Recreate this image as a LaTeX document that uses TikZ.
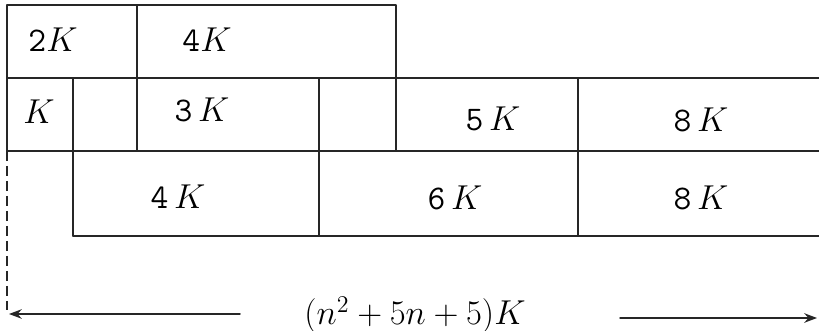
\documentclass[tikz,border=0pt]{standalone}
\usetikzlibrary{arrows.meta}
\begin{document}
\begin{tikzpicture}[x=0.5pt,y=-0.5pt,line join = round, line cap = round,>=Stealth]
			\tikzset{o/.style={font=\fontsize{17.28}{20}\selectfont\ttfamily},
				ke/.style={line width=0.75pt,black!85}}
			\useasboundingbox(0,0) rectangle (819,331);
			% cac o
			\draw[ke](7,5) rectangle (396,151);
			\draw[ke](7,78)--(819,78) (7,151)--(819,151) (73,236)--(819,236);
			\foreach \x/\a/\b in{73/78/236,137/5/151,319/78/236,578/78/236}
			\draw[ke](\x,\a)--(\x,\b);
			\node[o](c1) at (53,40) {2$K$};
			\node[o](c2) at (207,40) {4$K$};
			\node[o](c3) at (39,112) {$K$};
			\node[o](c4) at (202,110) {3$\,K$};
			\node[o](c5) at (493,119) {5$\,K$};
			\node[o](c6) at (701,120) {8$\,K$};
			\node[o](c7) at (178,197) {4$\,K$};
			\node[o](c8) at (455,198) {6$\,K$};
			\node[o](c9) at (701,198) {8$\,K$};
			% chieu dai
			\draw[ke,dash pattern=on 5pt off 2.5pt,line cap=butt](7,151)--(7,310);
			\node[o](dai) at (415,315) {$(n^2+5n+5)K$};
			\coordinate (t) at (9,314);
			\coordinate (p) at (817,318);
			\coordinate (ta) at (240,314);
			\coordinate (pa) at (620,318);
			\draw[ke,->](ta)--(t);
			\draw[ke,->](pa)--(p);
		\end{tikzpicture}
\end{document}
